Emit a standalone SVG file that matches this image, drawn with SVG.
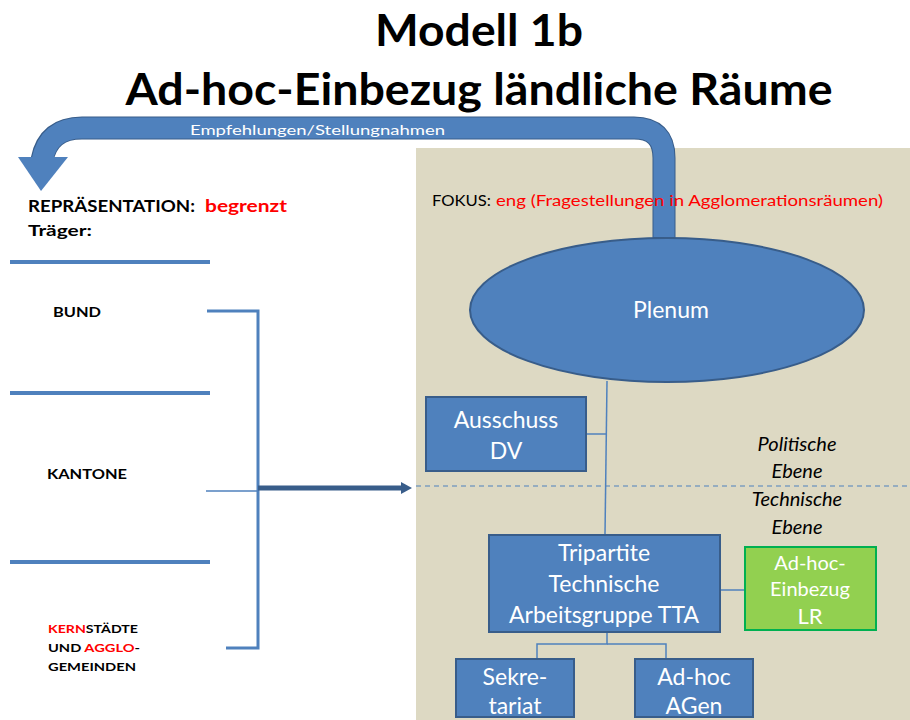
<svg xmlns="http://www.w3.org/2000/svg" width="910" height="720" viewBox="0 0 910 720">
<style>
text{font-family:Lato,"Open Sans","Liberation Sans",sans-serif}
.title{font-size:44px;font-weight:bold;fill:#000;text-anchor:middle}
.lbl{font-weight:bold;fill:#000}
.red{fill:#ff0000}
.box{fill:#4f81bd;stroke:#385d8a;stroke-width:2}
.wt{fill:#fff;font-size:23px;text-anchor:middle}
.conn{stroke:#4f81bd;stroke-width:1.5;fill:none}
.blue4{stroke:#4f81bd;stroke-width:4;fill:none}
.it{font-style:italic;font-size:20px;fill:#000;text-anchor:middle}
</style>
<rect width="910" height="720" fill="#fff"/>
<rect x="416" y="148" width="494" height="572" fill="#ddd9c3"/>
<text class="title" x="479" y="46" textLength="208" lengthAdjust="spacingAndGlyphs">Modell 1b</text>
<text class="title" x="479" y="105" textLength="707" lengthAdjust="spacingAndGlyphs">Ad-hoc-Einbezug ländliche Räume</text>
<g id="feedback-arrow">
<path d="M664,238 L664,158 Q664,128 634,128 L82,128 Q48,128 42,160" fill="none" stroke="#385d8a" stroke-width="23"/>
<path d="M664,237 L664,158 Q664,128 634,128 L82,128 Q48,128 42,161" fill="none" stroke="#4f81bd" stroke-width="21"/>
<polygon points="18,157 68,157 41,191" fill="#4f81bd"/>
<text x="190" y="135" font-size="14" fill="#fff" textLength="255" lengthAdjust="spacingAndGlyphs">Empfehlungen/Stellungnahmen</text>
</g>
<g id="left-panel">
<text class="lbl" x="28" y="212" font-size="17" textLength="167" lengthAdjust="spacingAndGlyphs">REPRÄSENTATION:</text>
<text class="lbl red" x="205" y="212" font-size="17" textLength="82" lengthAdjust="spacingAndGlyphs">begrenzt</text>
<text class="lbl" x="28" y="236" font-size="16" textLength="64" lengthAdjust="spacingAndGlyphs">Träger:</text>
<line class="blue4" x1="10" y1="262" x2="210" y2="262"/>
<line class="blue4" x1="10" y1="393" x2="210" y2="393"/>
<line class="blue4" x1="10" y1="562" x2="210" y2="562"/>
</g>
<g id="bund"><text class="lbl" x="53" y="317" font-size="14" textLength="48" lengthAdjust="spacingAndGlyphs">BUND</text></g>
<g id="kantone"><text class="lbl" x="47" y="479" font-size="14" textLength="80" lengthAdjust="spacingAndGlyphs">KANTONE</text></g>
<g id="kernstaedte">
<text class="lbl" x="48" y="633" font-size="12" textLength="90" lengthAdjust="spacingAndGlyphs"><tspan class="red">KERN</tspan>STÄDTE</text>
<text class="lbl" x="48" y="652" font-size="12" textLength="92" lengthAdjust="spacingAndGlyphs">UND <tspan class="red">AGGLO</tspan>-</text>
<text class="lbl" x="48" y="671" font-size="12" textLength="88" lengthAdjust="spacingAndGlyphs">GEMEINDEN</text>
</g>
<g id="fokus">
<text x="432" y="206" font-size="16" fill="#000" textLength="59" lengthAdjust="spacingAndGlyphs">FOKUS:</text>
<text class="red" x="496" y="206" font-size="16" textLength="387" lengthAdjust="spacingAndGlyphs">eng (Fragestellungen in Agglomerationsräumen)</text>
</g>
<g id="connectors">
<polyline points="207,311 258,311 258,648 226,648" fill="none" stroke="#4f81bd" stroke-width="3"/>
<line x1="206" y1="491" x2="258" y2="491" stroke="#4f81bd" stroke-width="1.5"/>
<line x1="258" y1="488" x2="402" y2="488" stroke="#385d8a" stroke-width="5"/>
<polygon points="401,482 412,488 401,494" fill="#385d8a"/>
<line class="conn" x1="607" y1="381" x2="605" y2="535"/>
<line class="conn" x1="586" y1="434" x2="606" y2="434"/>
<line class="conn" x1="720" y1="590" x2="745" y2="590"/>
<polyline class="conn" points="607,632 607,644 537,644 537,659"/>
<polyline class="conn" points="607,644 666,644 666,659"/>
<line x1="416" y1="486" x2="910" y2="486" stroke="#4f81bd" stroke-width="1.2" stroke-dasharray="5,4"/>
</g>
<g id="plenum">
<ellipse class="box" cx="667" cy="310" rx="197" ry="72"/>
<text class="wt" x="671" y="318">Plenum</text>
</g>
<g id="ausschuss">
<rect class="box" x="426" y="397" width="160" height="74"/>
<text class="wt" x="506" y="428">Ausschuss</text>
<text class="wt" x="506" y="459">DV</text>
</g>
<g id="ebenen">
<text class="it" x="797" y="451">Politische</text>
<text class="it" x="797" y="478">Ebene</text>
<text class="it" x="797" y="506">Technische</text>
<text class="it" x="797" y="534">Ebene</text>
</g>
<g id="tta">
<rect class="box" x="489" y="535" width="231" height="97"/>
<text class="wt" x="604" y="561">Tripartite</text>
<text class="wt" x="604" y="592">Technische</text>
<text class="wt" x="604" y="623">Arbeitsgruppe TTA</text>
</g>
<g id="adhoc-lr">
<rect x="745" y="547" width="131" height="83" fill="#92d050" stroke="#00b050" stroke-width="2"/>
<text class="wt" x="810" y="570" style="font-size:20px">Ad-hoc-</text>
<text class="wt" x="810" y="596" style="font-size:20px">Einbezug</text>
<text class="wt" x="810" y="624" style="font-size:22px">LR</text>
</g>
<g id="sekretariat">
<rect class="box" x="456" y="659" width="118" height="58"/>
<text class="wt" x="515" y="685">Sekre-</text>
<text class="wt" x="515" y="714">tariat</text>
</g>
<g id="adhoc-agen">
<rect class="box" x="635" y="659" width="118" height="58"/>
<text class="wt" x="694" y="685">Ad-hoc</text>
<text class="wt" x="694" y="714">AGen</text>
</g>
</svg>
